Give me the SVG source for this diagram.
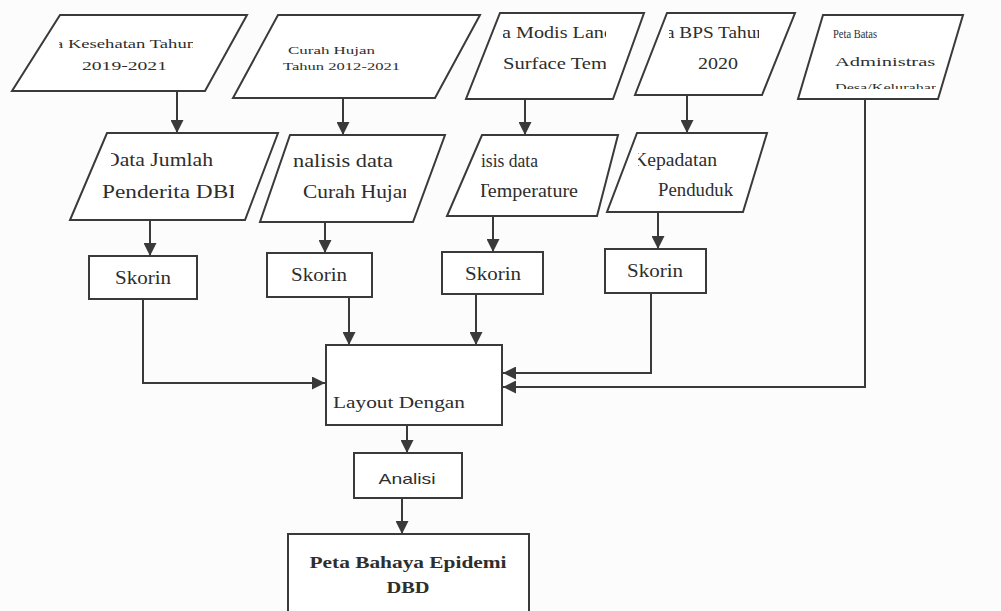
<svg xmlns="http://www.w3.org/2000/svg" width="1001" height="611" viewBox="0 0 1001 611">
<style>
.shape{fill:#fff;stroke:#3a3a3a;stroke-width:2}
.t{font-family:"Liberation Serif","Times New Roman",serif;fill:#2e2e2e}
.s{font-family:"Liberation Sans",Arial,sans-serif;fill:#2e2e2e}
.b{font-weight:bold}
.conn{fill:none;stroke:#3a3a3a;stroke-width:2}
</style>
<defs>
<marker id="ah" markerUnits="userSpaceOnUse" markerWidth="13" markerHeight="13" refX="13" refY="6.5" orient="auto">
<path d="M0,0 L13,6.5 L0,13 z" fill="#3a3a3a"/>
</marker>
<clipPath id="c1"><rect x="59" y="20" width="134" height="60"/></clipPath>
<clipPath id="c3"><rect x="503" y="18" width="103" height="75"/></clipPath>
<clipPath id="c4"><rect x="669" y="18" width="90" height="62"/></clipPath>
<clipPath id="c5"><rect x="830" y="18" width="106" height="71"/></clipPath>
<clipPath id="c6a"><rect x="111" y="140" width="123" height="40"/></clipPath>
<clipPath id="c6b"><rect x="95" y="175" width="139" height="35"/></clipPath>
<clipPath id="c7"><rect x="293" y="140" width="113" height="70"/></clipPath>
<clipPath id="c8"><rect x="481" y="140" width="110" height="65"/></clipPath>
<clipPath id="c9"><rect x="638" y="140" width="100" height="65"/></clipPath>
</defs>
<rect width="1001" height="611" fill="#fcfcfc"/>

<g id="conn">
<path class="conn" d="M177,91 V133" marker-end="url(#ah)"/>
<path class="conn" d="M343,98 V135" marker-end="url(#ah)"/>
<path class="conn" d="M525,99 V135" marker-end="url(#ah)"/>
<path class="conn" d="M687,95 V133" marker-end="url(#ah)"/>
<path class="conn" d="M150,220 V256" marker-end="url(#ah)"/>
<path class="conn" d="M325,222 V253" marker-end="url(#ah)"/>
<path class="conn" d="M493,216 V252" marker-end="url(#ah)"/>
<path class="conn" d="M658,212 V249" marker-end="url(#ah)"/>
<path class="conn" d="M143,299 V383 H325" marker-end="url(#ah)"/>
<path class="conn" d="M349,297 V345" marker-end="url(#ah)"/>
<path class="conn" d="M476,294 V345" marker-end="url(#ah)"/>
<path class="conn" d="M651,293 V373 H503" marker-end="url(#ah)"/>
<path class="conn" d="M865,99 V387 H503" marker-end="url(#ah)"/>
<path class="conn" d="M407,425 V453" marker-end="url(#ah)"/>
<path class="conn" d="M402,498 V534" marker-end="url(#ah)"/>
</g>

<g id="data-kesehatan">
<polygon class="shape" points="60,15 247,15 205,91 12,91"/>
<g clip-path="url(#c1)">
<text class="t" x="55" y="48" font-size="13" textLength="141" lengthAdjust="spacingAndGlyphs">a Kesehatan Tahun</text>
</g>
<text class="t" x="82" y="70" font-size="13" textLength="85" lengthAdjust="spacingAndGlyphs">2019-2021</text>
</g>

<g id="curah-hujan">
<polygon class="shape" points="278,15 480,15 435,98 233,98"/>
<text class="t" x="288" y="54" font-size="11" textLength="87" lengthAdjust="spacingAndGlyphs">Curah Hujan</text>
<text class="t" x="283" y="70" font-size="11" textLength="117" lengthAdjust="spacingAndGlyphs">Tahun 2012-2021</text>
</g>

<g id="modis">
<polygon class="shape" points="500,13 644,13 613,99 466,99"/>
<g clip-path="url(#c3)">
<text class="t" x="502" y="38" font-size="17" textLength="112" lengthAdjust="spacingAndGlyphs">a Modis Land</text>
<text class="t" x="503" y="69" font-size="17" textLength="104" lengthAdjust="spacingAndGlyphs">Surface Tem</text>
</g>
</g>

<g id="bps">
<polygon class="shape" points="667,13 795,13 762,95 635,95"/>
<g clip-path="url(#c4)">
<text class="t" x="666" y="38" font-size="17" textLength="100" lengthAdjust="spacingAndGlyphs">a BPS Tahun</text>
</g>
<text class="t" x="698" y="69" font-size="17" textLength="40" lengthAdjust="spacingAndGlyphs">2020</text>
</g>

<g id="peta-batas">
<polygon class="shape" points="823,15 963,15 938,99 798,99"/>
<g clip-path="url(#c5)">
<text class="t" x="833" y="38" font-size="13" textLength="44" lengthAdjust="spacingAndGlyphs">Peta Batas</text>
<text class="t" x="835" y="66" font-size="13" textLength="106" lengthAdjust="spacingAndGlyphs">Administrasi</text>
<text class="t" x="835" y="91" font-size="10" textLength="104" lengthAdjust="spacingAndGlyphs">Desa/Kelurahan</text>
</g>
</g>

<g id="jumlah-penderita">
<polygon class="shape" points="107,133 278,133 245,220 70,220"/>
<g clip-path="url(#c6a)">
<text class="t" x="104" y="166" font-size="18" textLength="109" lengthAdjust="spacingAndGlyphs">Data Jumlah</text>
</g>
<g clip-path="url(#c6b)">
<text class="t" x="102" y="198" font-size="18" textLength="143" lengthAdjust="spacingAndGlyphs">Penderita DBD</text>
</g>
</g>

<g id="analisis-curah">
<polygon class="shape" points="290,135 445,135 413,222 260,222"/>
<g clip-path="url(#c7)">
<text class="t" x="293" y="167" font-size="18" textLength="100" lengthAdjust="spacingAndGlyphs">nalisis data</text>
<text class="t" x="303" y="198" font-size="18" textLength="110" lengthAdjust="spacingAndGlyphs">Curah Hujan</text>
</g>
</g>

<g id="analisis-temp">
<polygon class="shape" points="482,135 618,135 597,216 447,216"/>
<g clip-path="url(#c8)">
<text class="t" x="481" y="167" font-size="18" textLength="57" lengthAdjust="spacingAndGlyphs">isis data</text>
<text class="t" x="477" y="197" font-size="18" textLength="101" lengthAdjust="spacingAndGlyphs">Temperature</text>
</g>
</g>

<g id="kepadatan">
<polygon class="shape" points="637,133 767,133 743,212 607,212"/>
<g clip-path="url(#c9)">
<text class="t" x="633" y="166" font-size="18" textLength="84" lengthAdjust="spacingAndGlyphs">Kepadatan</text>
</g>
<text class="t" x="658" y="196" font-size="18" textLength="75" lengthAdjust="spacingAndGlyphs">Penduduk</text>
</g>

<g id="skorin-1">
<rect class="shape" x="89" y="256" width="108" height="43"/>
<text class="t" x="143" y="284" font-size="18" text-anchor="middle" textLength="56" lengthAdjust="spacingAndGlyphs">Skorin</text>
</g>
<g id="skorin-2">
<rect class="shape" x="267" y="253" width="105" height="44"/>
<text class="t" x="319" y="281" font-size="18" text-anchor="middle" textLength="56" lengthAdjust="spacingAndGlyphs">Skorin</text>
</g>
<g id="skorin-3">
<rect class="shape" x="442" y="252" width="101" height="42"/>
<text class="t" x="493" y="280" font-size="18" text-anchor="middle" textLength="56" lengthAdjust="spacingAndGlyphs">Skorin</text>
</g>
<g id="skorin-4">
<rect class="shape" x="605" y="249" width="101" height="44"/>
<text class="t" x="655" y="277" font-size="18" text-anchor="middle" textLength="56" lengthAdjust="spacingAndGlyphs">Skorin</text>
</g>

<g id="layout">
<rect class="shape" x="326" y="345" width="176" height="80"/>
<text class="t" x="333" y="408" font-size="17" textLength="132" lengthAdjust="spacingAndGlyphs">Layout Dengan</text>
</g>

<g id="analisi">
<rect class="shape" x="354" y="453" width="108" height="45"/>
<text class="s" x="407" y="484" font-size="15" text-anchor="middle" textLength="57" lengthAdjust="spacingAndGlyphs">Analisi</text>
</g>

<g id="peta-bahaya">
<rect class="shape" x="288" y="534" width="241" height="90"/>
<text class="t b" x="408" y="568" font-size="16" text-anchor="middle" textLength="197" lengthAdjust="spacingAndGlyphs">Peta Bahaya Epidemi</text>
<text class="t b" x="408" y="593" font-size="16" text-anchor="middle" textLength="43" lengthAdjust="spacingAndGlyphs">DBD</text>
</g>
</svg>
